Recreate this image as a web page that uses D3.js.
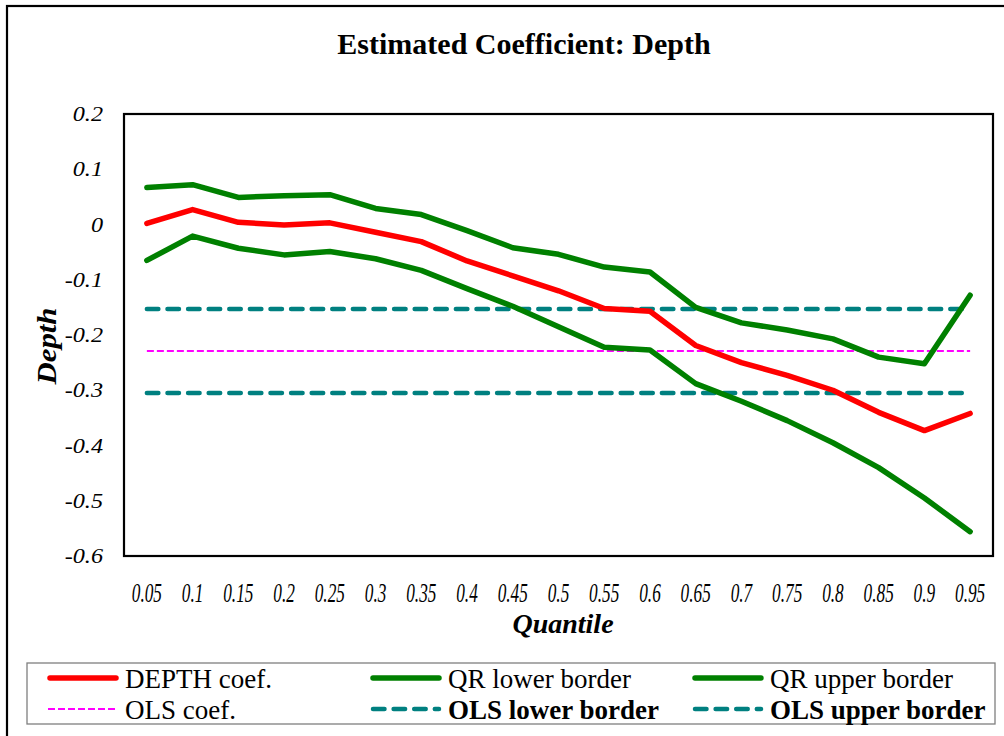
<!DOCTYPE html>
<meta charset="utf-8">
<style>
body { margin: 0; background: #fff; }
svg text { font-family: "Liberation Serif", "Times New Roman", serif; fill: #000; }
.tick { font-style: italic; }
</style>
<body>
<script src="https://d3js.org/d3.v7.min.js"></script>
<script>
    // values
    let quantiles = ["0.05", "0.1", "0.15", "0.2", "0.25", "0.3", "0.35", "0.4", "0.45", "0.5",
                     "0.55", "0.6", "0.65", "0.7", "0.75", "0.8", "0.85", "0.9", "0.95"],
        depthCoef = [0.002, 0.027, 0.004, -0.001, 0.003, -0.014, -0.031, -0.066, -0.093, -0.120,
                     -0.152, -0.157, -0.219, -0.250, -0.273, -0.300, -0.340, -0.373, -0.342],
        qrLower   = [-0.065, -0.021, -0.043, -0.055, -0.049, -0.062, -0.083, -0.116, -0.148, -0.185,
                     -0.222, -0.227, -0.288, -0.320, -0.355, -0.395, -0.440, -0.495, -0.556],
        qrUpper   = [0.067, 0.072, 0.049, 0.052, 0.054, 0.029, 0.018, -0.011, -0.042, -0.054,
                     -0.077, -0.086, -0.150, -0.178, -0.191, -0.207, -0.240, -0.252, -0.128],
        olsCoef = -0.229,
        olsLower = -0.305,
        olsUpper = -0.153,
        yTicks = [0.2, 0.1, 0, -0.1, -0.2, -0.3, -0.4, -0.5, -0.6];

    let width = 1004, height = 736,
        plot = {left: 124, right: 993, top: 114, bottom: 556};

    let svg = d3.select("body").append("svg")
                .attr("width", width)
                .attr("height", height);

    // outer chart frame (runs off right/bottom edge like the reference)
    svg.append("rect")
        .attr("x", 7).attr("y", 6)
        .attr("width", width + 10).attr("height", height + 10)
        .attr("fill", "#fff")
        .attr("stroke", "#000")
        .attr("stroke-width", 2.2);

    let x = d3.scalePoint()
              .domain(quantiles)
              .range([plot.left, plot.right])
              .padding(0.5),
        y = d3.scaleLinear()
              .domain([-0.6, 0.2])
              .range([plot.bottom, plot.top]);

    svg.append("text")
        .attr("x", 524).attr("y", 54)
        .attr("text-anchor", "middle")
        .attr("font-size", 30)
        .attr("font-weight", "bold")
        .text("Estimated Coefficient: Depth");

    // plot area box
    svg.append("rect")
        .attr("x", plot.left).attr("y", plot.top)
        .attr("width", plot.right - plot.left)
        .attr("height", plot.bottom - plot.top)
        .attr("fill", "none")
        .attr("stroke", "#000")
        .attr("stroke-width", 2.2);

    // y tick labels
    svg.append("g")
        .selectAll("text")
        .data(yTicks)
        .join("text")
            .attr("class", "tick")
            .attr("transform", d => `translate(103,${y(d) + 7}) scale(1.1,1)`)
            .attr("text-anchor", "end")
            .attr("font-size", 22)
            .text(d => d === 0 ? "0" : String(+d.toFixed(1)));

    // x tick labels
    svg.append("g")
        .selectAll("text")
        .data(quantiles)
        .join("text")
            .attr("class", "tick")
            .attr("transform", d => `translate(${x(d)},602) scale(0.64,1)`)
            .attr("text-anchor", "middle")
            .attr("font-size", 27)
            .text(d => d);

    svg.append("text")
        .attr("x", 563).attr("y", 633)
        .attr("text-anchor", "middle")
        .attr("font-size", 28)
        .attr("font-weight", "bold")
        .attr("font-style", "italic")
        .text("Quantile");

    svg.append("text")
        .attr("transform", "translate(56,346) rotate(-90) scale(1.1,1)")
        .attr("text-anchor", "middle")
        .attr("font-size", 28)
        .attr("font-weight", "bold")
        .attr("font-style", "italic")
        .text("Depth");

    let series = [
        {name: "DEPTH coef.", values: depthCoef, color: "#ff0000", w: 5.5, dash: null, bold: false},
        {name: "QR lower border", values: qrLower, color: "#008000", w: 5.5, dash: null, bold: false},
        {name: "QR upper border", values: qrUpper, color: "#008000", w: 5.5, dash: null, bold: false},
        {name: "OLS coef.", values: quantiles.map(() => olsCoef), color: "#ff00ff", w: 2, dash: "7,3", bold: false, cap: "butt"},
        {name: "OLS lower border", values: quantiles.map(() => olsLower), color: "#008080", w: 4.5, dash: "11.5,9.1", bold: true},
        {name: "OLS upper border", values: quantiles.map(() => olsUpper), color: "#008080", w: 4.5, dash: "11.5,9.1", bold: true}
    ];

    let line = d3.line()
                 .x((d, i) => x(quantiles[i]))
                 .y(d => y(d));

    // draw order: dashed references first, then the solid series
    let drawOrder = [3, 4, 5, 1, 2, 0];
    svg.append("g")
        .attr("fill", "none")
        .selectAll("path")
        .data(drawOrder.map(i => series[i]))
        .join("path")
            .attr("d", d => line(d.values))
            .attr("stroke", d => d.color)
            .attr("stroke-width", d => d.w)
            .attr("stroke-dasharray", d => d.dash)
            .attr("stroke-linecap", d => d.cap || "round")
            .attr("stroke-linejoin", "round");

    // legend
    svg.append("rect")
        .attr("x", 27).attr("y", 663)
        .attr("width", 968).attr("height", 61)
        .attr("fill", "#fff")
        .attr("stroke", "#7f7f7f")
        .attr("stroke-width", 1.3);

    let colX = [48, 371, 693],
        rowY = [678, 709];

    let item = svg.append("g")
        .selectAll("g")
        .data(series)
        .join("g")
            .attr("transform", (d, i) => `translate(${colX[i % 3]},${rowY[Math.floor(i / 3)]})`);

    item.append("line")
        .attr("x1", d => d.cap === "butt" ? 0 : 2)
        .attr("x2", d => d.cap === "butt" ? 70 : 68)
        .attr("stroke", d => d.color)
        .attr("stroke-width", d => d.w)
        .attr("stroke-dasharray", d => d.dash)
        .attr("stroke-linecap", d => d.cap || "round");

    item.append("text")
        .attr("x", 77)
        .attr("y", 10)
        .attr("font-size", 27)
        .attr("font-weight", d => d.bold ? "bold" : "normal")
        .text(d => d.name);
</script>
</body>
